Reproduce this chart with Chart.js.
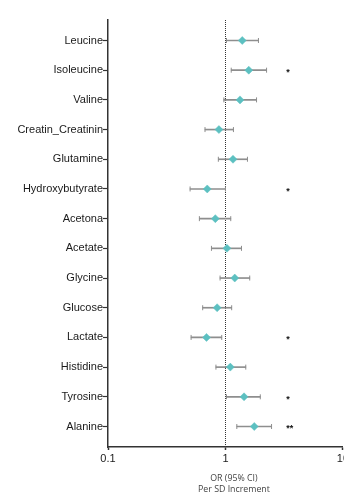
<!DOCTYPE html>
<html>
<head>
<meta charset="utf-8">
<script src="https://cdn.jsdelivr.net/npm/chart.js@4/dist/chart.umd.min.js"></script>
<style>
  html, body { margin: 0; padding: 0; background: #fff; overflow: hidden; width: 344px; height: 495px; }
  #wrap { width: 351px; height: 495px; position: relative; }
</style>
</head>
<body>
<div id="wrap"><canvas id="c"></canvas></div>
<script>
// ---- data ----
const categories = ['Leucine','Isoleucine','Valine','Creatin_Creatinin','Glutamine','Hydroxybutyrate','Acetona','Acetate','Glycine','Glucose','Lactate','Histidine','Tyrosine','Alanine'];
const oddsRatio = [1.39, 1.58, 1.33, 0.88, 1.16, 0.70, 0.82, 1.03, 1.20, 0.85, 0.69, 1.10, 1.44, 1.76];
const ciLower   = [1.02, 1.12, 0.97, 0.67, 0.87, 0.50, 0.60, 0.76, 0.90, 0.64, 0.51, 0.83, 1.02, 1.25];
const ciUpper   = [1.91, 2.24, 1.84, 1.17, 1.54, 1.00, 1.11, 1.37, 1.61, 1.13, 0.93, 1.49, 1.98, 2.47];
const significance = ['', '*', '', '', '', '*', '', '', '', '', '*', '', '*', '**'];
const xTickValues = [0.1, 1, 10];
const referenceValue = 1;
const starValue = 3.3;
const axisTitle = ['OR (95% CI)', 'Per SD Increment'];

const markerColor = '#5cc0c1';
const whiskerColor = '#8e8e8e';

const starsPlugin = {
  id: 'stars',
  afterDatasetsDraw(chart) {
    const {ctx, scales: {x, y}} = chart;
    ctx.save();
    ctx.fillStyle = '#111';
    ctx.font = 'bold 9px "Liberation Sans", Arial, sans-serif';
    ctx.textAlign = 'left';
    ctx.textBaseline = 'middle';
    significance.forEach((s, i) => {
      if (!s) return;
      ctx.fillText(s, x.getPixelForValue(starValue), y.getPixelForValue(i) + 2.5);
    });
    ctx.restore();
  }
};

const axisTitlePlugin = {
  id: 'axisTitle',
  afterDraw(chart) {
    const {ctx, scales: {x}} = chart;
    ctx.save();
    ctx.fillStyle = '#444';
    ctx.font = '8.8px "Open Sans", sans-serif';
    ctx.textAlign = 'center';
    ctx.textBaseline = 'middle';
    const cx = x.getPixelForValue(referenceValue) + 8.5;
    axisTitle.forEach((t, i) => ctx.fillText(t, cx, x.bottom - 17 + i * 11));
    ctx.restore();
  }
};

new Chart(document.getElementById('c'), {
  type: 'bar',
  data: {
    datasets: [
      {
        type: 'bar',
        indexAxis: 'y',
        data: categories.map((c, i) => ({x: [ciLower[i], ciUpper[i]], y: i})),
        backgroundColor: whiskerColor,
        barThickness: 1,
        borderWidth: 0,
        order: 3
      },
      {
        type: 'scatter',
        data: categories.map((c, i) => ({x: ciLower[i], y: i})),
        pointStyle: 'line',
        rotation: 90,
        pointRadius: 2.5,
        borderColor: whiskerColor,
        borderWidth: 1,
        order: 2
      },
      {
        type: 'scatter',
        data: categories.map((c, i) => ({x: ciUpper[i], y: i})),
        pointStyle: 'line',
        rotation: 90,
        pointRadius: 2.5,
        borderColor: whiskerColor,
        borderWidth: 1,
        order: 2
      },
      {
        type: 'scatter',
        data: categories.map((c, i) => ({x: oddsRatio[i], y: i})),
        pointStyle: 'rectRot',
        pointRadius: 4,
        backgroundColor: markerColor,
        borderColor: markerColor,
        borderWidth: 0.5,
        order: 1
      }
    ]
  },
  options: {
    indexAxis: 'y',
    responsive: true,
    maintainAspectRatio: false,
    animation: false,
    layout: { padding: { top: 20, left: 0, right: 0, bottom: 0 } },
    plugins: { legend: { display: false }, tooltip: { enabled: false } },
    scales: {
      x: {
        type: 'logarithmic',
        position: 'bottom',
        offset: false,
        min: 0.1,
        max: 10,
        afterBuildTicks: (scale) => { scale.ticks = xTickValues.map(v => ({value: v})); },
        afterFit: (scale) => { scale.height = 48; },
        ticks: {
          callback: (v) => String(v),
          color: '#1a1a1a',
          font: { family: '"Liberation Sans", Arial, sans-serif', size: 11 },
          padding: 2,
          maxRotation: 0,
          autoSkip: false
        },
        grid: {
          offset: false,
          drawOnChartArea: true,
          color: (ctx) => (ctx.tick && ctx.tick.value === referenceValue) ? '#333' : 'rgba(0,0,0,0)',
          lineWidth: 1,
          drawTicks: true,
          tickLength: 3,
          tickColor: '#333',
          tickWidth: 1.5
        },
        border: { display: true, color: '#333', width: 1.5, dash: [1, 1] },
        title: { display: false }
      },
      y: {
        type: 'linear',
        position: 'left',
        offset: false,
        reverse: true,
        min: -0.69,
        max: 13.69,
        afterBuildTicks: (scale) => { scale.ticks = categories.map((c, i) => ({value: i})); },
        afterFit: (scale) => { scale.width = 108; },
        ticks: {
          callback: (v) => categories[v],
          color: '#1a1a1a',
          font: { family: '"Liberation Sans", Arial, sans-serif', size: 11 },
          padding: 0,
          autoSkip: false
        },
        grid: {
          offset: false,
          drawOnChartArea: false,
          drawTicks: true,
          tickLength: 5,
          tickColor: '#333',
          tickWidth: 1.2
        },
        border: { display: true, color: '#333', width: 1.5 }
      }
    }
  },
  plugins: [starsPlugin, axisTitlePlugin]
});
</script>
</body>
</html>
